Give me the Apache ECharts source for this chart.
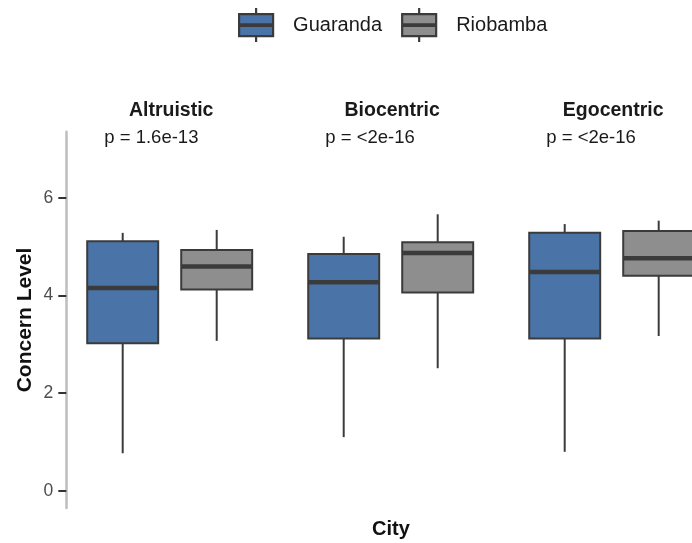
<!DOCTYPE html>
<html>
<head>
<meta charset="utf-8">
<script src="https://cdn.jsdelivr.net/npm/echarts@6/dist/echarts.min.js"></script>
<style>
  html, body { margin: 0; padding: 0; background: #fff; }
  #chart { width: 692px; height: 543px; }
</style>
</head>
<body>
<div id="chart"></div>
<script>
// Concern scales (facets) and the two cities compared in each
const facets = ['Altruistic', 'Biocentric', 'Egocentric'];
const cities = ['Guaranda', 'Riobamba'];
const pLabels = ['p = 1.6e-13', 'p = <2e-16', 'p = <2e-16'];

// Box statistics per facet: [lower whisker, Q1, median, Q3, upper whisker]
const guaranda = [
  [0.77, 3.02, 4.15, 5.11, 5.28],
  [1.10, 3.12, 4.27, 4.85, 5.20],
  [0.80, 3.12, 4.48, 5.28, 5.46]
];
const riobamba = [
  [3.07, 4.12, 4.59, 4.93, 5.34],
  [2.51, 4.06, 4.87, 5.09, 5.66],
  [3.17, 4.40, 4.76, 5.32, 5.53]
];

const yTicks = [0, 2, 4, 6];

// Styling / layout
const COLORS = { Guaranda: '#4A74A8', Riobamba: '#8E8E8E' };
const EDGE = '#3B3B3B';
const FONT = '"Liberation Sans", Arial, Helvetica, sans-serif';
const CANVAS_W = 692;
const Y_MIN = -0.35, Y_MAX = 7.35;
const X_MIN = 0.4, X_SPAN = 2.2;
const PANEL_LEFT = 66.3, PANEL_W = 206.8, PANEL_STEP = 221, PANEL_TOP = 131.7, PANEL_H = 376.3;
const UNIT = PANEL_W / X_SPAN;
const BOX_W = 0.755;

function renderBox(params, api) {
  const x = api.value(0);
  const lo = api.coord([x, api.value(1)]);
  const q1 = api.coord([x, api.value(2)]);
  const med = api.coord([x, api.value(3)]);
  const q3 = api.coord([x, api.value(4)]);
  const hi = api.coord([x, api.value(5)]);
  const w = api.size([BOX_W, 0])[0];
  const fill = api.visual('color');
  const cx = q3[0];
  return {
    type: 'group',
    children: [
      { type: 'line', shape: { x1: cx, y1: hi[1], x2: cx, y2: q3[1] }, style: { stroke: EDGE, lineWidth: 2 } },
      { type: 'line', shape: { x1: cx, y1: q1[1], x2: cx, y2: lo[1] }, style: { stroke: EDGE, lineWidth: 2 } },
      { type: 'rect', shape: { x: cx - w / 2, y: q3[1], width: w, height: q1[1] - q3[1] },
        style: { fill: fill, stroke: EDGE, lineWidth: 2 } },
      { type: 'line', shape: { x1: cx - w / 2, y1: med[1], x2: cx + w / 2, y2: med[1] },
        style: { stroke: EDGE, lineWidth: 4.5 } }
    ]
  };
}

const grids = [], xAxes = [], yAxes = [], series = [], graphics = [];

facets.forEach((facet, i) => {
  const left = PANEL_LEFT + i * PANEL_STEP;
  // the last panel runs past the canvas edge: keep the scale, trim the visible range
  const width = Math.min(PANEL_W, CANVAS_W - left);
  grids.push({ left: left, top: PANEL_TOP, width: width, height: PANEL_H, containLabel: false });
  xAxes.push({ gridIndex: i, type: 'value', min: X_MIN, max: X_MIN + width / UNIT, show: false });
  yAxes.push({
    gridIndex: i, type: 'value', min: Y_MIN, max: Y_MAX,
    show: i === 0,
    axisLine: { show: true, lineStyle: { color: '#BDBDBD', width: 2.5 } },
    axisTick: { show: true, length: 8, lineStyle: { color: '#333', width: 2 }, customValues: yTicks },
    axisLabel: { margin: 13, color: '#4D4D4D', fontSize: 17.5, fontFamily: FONT, customValues: yTicks },
    splitLine: { show: false }
  });

  [guaranda, riobamba].forEach((stats, c) => {
    const name = cities[c];
    series.push({
      type: 'custom',
      name: name,
      xAxisIndex: i,
      yAxisIndex: i,
      itemStyle: { color: COLORS[name] },
      encode: { x: 0, y: [1, 2, 3, 4, 5] },
      data: [[c + 1].concat(stats[i])],
      renderItem: renderBox,
      clip: false,
      silent: true
    });
  });

  const center = left + PANEL_W / 2;
  graphics.push({
    type: 'text', x: center + 1.5, y: 111,
    style: { text: facet, fontFamily: FONT, fontWeight: 'bold', fontSize: 19.5, fill: '#1A1A1A',
             align: 'center', verticalAlign: 'middle' }
  });
  graphics.push({
    type: 'text', x: left + 38, y: 138,
    style: { text: pLabels[i], fontFamily: FONT, fontSize: 18.5, fill: '#1A1A1A',
             align: 'left', verticalAlign: 'middle' }
  });
});

graphics.push({
  type: 'text', x: 25, y: 320, rotation: Math.PI / 2,
  style: { text: 'Concern Level', fontFamily: FONT, fontWeight: 'bold', fontSize: 21, fill: '#111',
           align: 'center', verticalAlign: 'middle' }
});
graphics.push({
  type: 'text', x: 391, y: 529,
  style: { text: 'City', fontFamily: FONT, fontWeight: 'bold', fontSize: 20, fill: '#111',
           align: 'center', verticalAlign: 'middle' }
});

// legend key: box with whisker stubs and a thick median bar
const KEY_ICON = 'path://M0,6L34,6L34,28L0,28Z M0,16.3L34,16.3L34,17.7L0,17.7Z M17,0L17,6 M17,28L17,34';

const option = {
  animation: false,
  backgroundColor: '#fff',
  legend: {
    left: 233, top: 2,
    itemWidth: 34, itemHeight: 35, itemGap: 19,
    data: cities.map(n => ({ name: n, icon: KEY_ICON })),
    itemStyle: { borderColor: EDGE, borderWidth: 2.2 },
    textStyle: { fontFamily: FONT, fontSize: 20, color: '#1A1A1A', padding: [4, 0, 0, 15] },
    selectedMode: false
  },
  grid: grids,
  xAxis: xAxes,
  yAxis: yAxes,
  series: series,
  graphic: graphics
};

const chart = echarts.init(document.getElementById('chart'), null, { renderer: 'canvas' });
chart.setOption(option);
</script>
</body>
</html>
